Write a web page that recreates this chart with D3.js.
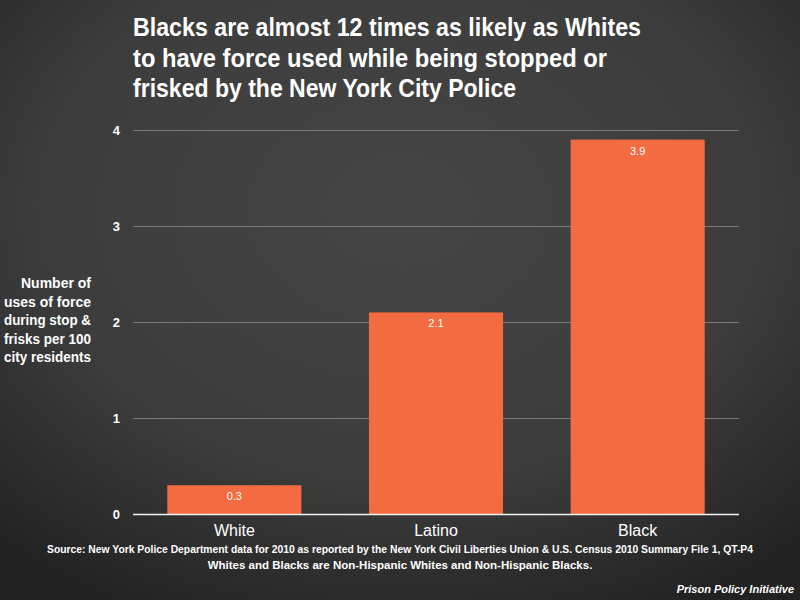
<!DOCTYPE html>
<html>
<head>
<meta charset="utf-8">
<script src="https://cdn.jsdelivr.net/npm/d3@7"></script>
<style>
  body { margin: 0; background: #333; }
  svg { display: block; }
  text { font-family: "Liberation Sans", Arimo, "Open Sans", sans-serif; fill: #fff; }
</style>
</head>
<body>
<svg id="chart" width="800" height="600"></svg>
<script>
// chart data
var categories = ["White", "Latino", "Black"];
var values = [0.3, 2.1, 3.9];
var valueLabels = ["0.3", "2.1", "3.9"];
var yTicks = [0, 1, 2, 3, 4];
var titleLines = [
  "Blacks are almost 12 times as likely as Whites",
  "to have force used while being stopped or",
  "frisked by the New York City Police"
];
var yLabelLines = ["Number of", "uses of force", "during stop &", "frisks per 100", "city residents"];
var sourceLines = [
  "Source: New York Police Department data for 2010 as reported by the New York Civil Liberties Union & U.S. Census 2010 Summary File 1, QT-P4",
  "Whites and Blacks are Non-Hispanic Whites and Non-Hispanic Blacks."
];

var svg = d3.select("#chart");

// shrink a text to a max width if it runs over
function fitWidth(sel, maxW) {
  sel.each(function () {
    if (this.getComputedTextLength() > maxW) {
      d3.select(this).attr("textLength", maxW).attr("lengthAdjust", "spacingAndGlyphs");
    }
  });
}

// background gradient
var defs = svg.append("defs");
var grad = defs.append("radialGradient")
  .attr("id", "bg")
  .attr("cx", "50%").attr("cy", "35%").attr("r", "75%");
grad.append("stop").attr("offset", "0%").attr("stop-color", "#454545");
grad.append("stop").attr("offset", "60%").attr("stop-color", "#3c3c3c");
grad.append("stop").attr("offset", "100%").attr("stop-color", "#222");
svg.append("rect").attr("width", 800).attr("height", 600).attr("fill", "url(#bg)");

var x = d3.scaleBand()
  .domain(categories)
  .range([133, 739])
  .paddingInner(0.335)
  .paddingOuter(0.17);

var y = d3.scaleLinear()
  .domain([0, 4])
  .range([514, 130]);

// gridlines
svg.append("g").selectAll("line")
  .data(yTicks.filter(function (d) { return d > 0 }))
  .enter().append("line")
  .attr("x1", 133).attr("x2", 739)
  .attr("y1", function (d) { return y(d) + 0.5 })
  .attr("y2", function (d) { return y(d) + 0.5 })
  .attr("stroke", "#7a7a7a")
  .attr("stroke-width", 1);

// y tick labels
svg.append("g").selectAll("text")
  .data(yTicks)
  .enter().append("text")
  .attr("x", 120)
  .attr("y", function (d) { return y(d) + 5 })
  .attr("text-anchor", "end")
  .attr("font-size", 13)
  .attr("font-weight", "bold")
  .text(function (d) { return d });

// bars
svg.append("g").selectAll("rect")
  .data(values)
  .enter().append("rect")
  .attr("x", function (d, i) { return x(categories[i]) })
  .attr("y", function (d) { return y(d) })
  .attr("width", x.bandwidth())
  .attr("height", function (d) { return y(0) - y(d) })
  .attr("fill", "#f26b41");

// value labels
svg.append("g").selectAll("text")
  .data(values)
  .enter().append("text")
  .attr("x", function (d, i) { return x(categories[i]) + x.bandwidth() / 2 })
  .attr("y", function (d) { return y(d) + 15 })
  .attr("text-anchor", "middle")
  .attr("font-size", 11)
  .text(function (d, i) { return valueLabels[i] });

// baseline
svg.append("line")
  .attr("x1", 133).attr("x2", 739)
  .attr("y1", y(0) + 0.5).attr("y2", y(0) + 0.5)
  .attr("stroke", "#f2f2f2")
  .attr("stroke-width", 1.5);

// category labels
svg.append("g").selectAll("text")
  .data(categories)
  .enter().append("text")
  .attr("x", function (d) { return x(d) + x.bandwidth() / 2 })
  .attr("y", 536)
  .attr("text-anchor", "middle")
  .attr("font-size", 16)
  .attr("font-weight", 500)
  .text(function (d) { return d });

// title
var titleW = [508, 474, 383];
svg.append("g").selectAll("text")
  .data(titleLines)
  .enter().append("text")
  .attr("x", 133)
  .attr("y", function (d, i) { return 36 + i * 30.5 })
  .attr("font-size", 25)
  .attr("font-weight", "bold")
  .attr("textLength", function (d, i) { return titleW[i] })
  .attr("lengthAdjust", "spacingAndGlyphs")
  .text(function (d) { return d });

// y axis label
svg.append("g").selectAll("text")
  .data(yLabelLines)
  .enter().append("text")
  .attr("x", 91)
  .attr("y", function (d, i) { return 288 + i * 18.5 })
  .attr("text-anchor", "end")
  .attr("font-size", 14)
  .attr("font-weight", "bold")
  .text(function (d) { return d })
  .call(fitWidth, 87);

// source note
svg.append("g").selectAll("text")
  .data(sourceLines)
  .enter().append("text")
  .attr("x", 400)
  .attr("y", function (d, i) { return 553 + i * 16 })
  .attr("text-anchor", "middle")
  .attr("font-size", 11.5)
  .attr("font-weight", "bold")
  .text(function (d) { return d })
  .call(fitWidth, 706);

svg.append("text")
  .attr("x", 794)
  .attr("y", 593)
  .attr("text-anchor", "end")
  .attr("font-size", 11)
  .attr("font-weight", "bold")
  .attr("font-style", "italic")
  .text("Prison Policy Initiative");
</script>
</body>
</html>
